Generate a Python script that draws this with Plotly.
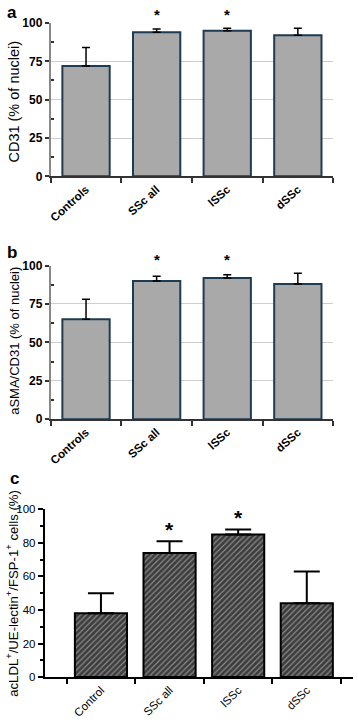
import plotly.graph_objects as go

cats_ab = ["Controls", "SSc all", "lSSc", "dSSc"]
cats_c = ["Control", "SSc all", "lSSc", "dSSc"]

cd31 = [72, 94, 95, 92]
cd31_err = [12, 2, 1.5, 4.5]
asma = [65, 90, 92, 88]
asma_err = [13, 3, 2, 7]
acldl = [38, 74, 85, 44]
acldl_err = [12, 7, 3, 19]

titles = ["CD31 (% of nuclei)", "aSMA/CD31 (% of nuclei)",
          "acLDL<sup>+</sup>/UE-lectin<sup>+</sup>/FSP-1<sup>+</sup> cells (%)"]
panel_labels = ["a", "b", "c"]

W, H = 358, 722
def px(x): return x / W
def py(y): return 1 - y / H

FONT = "Liberation Sans, Arial"
fig = go.Figure()

bar_ab = dict(marker=dict(color="#a9a9a9", line=dict(color="#1d3b52", width=2)), width=0.67, showlegend=False)
fig.add_trace(go.Bar(x=cats_ab, y=cd31, xaxis="x", yaxis="y",
                     error_y=dict(type="data", array=cd31_err, arrayminus=[0]*4, symmetric=False,
                                  color="black", thickness=1.5, width=4), **bar_ab))
fig.add_trace(go.Bar(x=cats_ab, y=asma, xaxis="x2", yaxis="y2",
                     error_y=dict(type="data", array=asma_err, arrayminus=[0]*4, symmetric=False,
                                  color="black", thickness=1.5, width=4), **bar_ab))
fig.add_trace(go.Bar(x=cats_c, y=acldl, xaxis="x3", yaxis="y3", width=0.76, showlegend=False,
                     marker=dict(color="#3c3c3c", line=dict(color="black", width=2),
                                 pattern=dict(shape="/", fgcolor="#d8d8d8", size=4, solidity=0.3, fillmode="overlay")),
                     error_y=dict(type="data", array=acldl_err, arrayminus=[0]*4, symmetric=False,
                                  color="black", thickness=2, width=13)))

tf_ab = dict(family=FONT, size=11.5, color="black", weight="bold")
tf_c = dict(family=FONT, size=11.5, color="black")
tfy_ab = dict(family=FONT, size=12, color="black", weight="bold")

xa_ab = dict(type="category", range=[-0.5, 3.5], tickson="boundaries", ticks="outside", ticklen=5,
             tickcolor="#333", tickwidth=1.5, showline=True, linecolor="#333", linewidth=2,
             tickangle=-42, tickfont=tf_ab, showgrid=False, fixedrange=True)
ya_ab = dict(range=[0, 100], tickvals=[0, 25, 50, 75, 100], ticks="outside", ticklen=4, tickcolor="#333",
             tickwidth=1.5, showline=True, linecolor="#888", linewidth=2, showgrid=True,
             gridcolor="#cfcfcf", gridwidth=1, tickfont=tfy_ab, zeroline=False, fixedrange=True,
             minor=dict(tickvals=[12.5, 37.5, 62.5, 87.5], ticks="inside", ticklen=3, tickcolor="#333", showgrid=False))

fig.update_layout(
    width=W, height=H, margin=dict(l=0, r=0, t=0, b=0),
    paper_bgcolor="white", plot_bgcolor="white", bargap=0.33,
    xaxis=dict(domain=[px(49), px(333)], anchor="y", **xa_ab),
    yaxis=dict(domain=[py(172.7), py(16.3)], anchor="x", **ya_ab),
    xaxis2=dict(domain=[px(49), px(333)], anchor="y2", **xa_ab),
    yaxis2=dict(domain=[py(420.3), py(263.7)], anchor="x2", **ya_ab),
    xaxis3=dict(domain=[px(43), px(353)], anchor="y3", type="category", range=[-0.819, 3.674],
                tickson="boundaries", ticks="outside", ticklen=5, tickcolor="black", tickwidth=1.5,
                showline=True, linecolor="black", linewidth=2, tickangle=-45, tickfont=tf_c, fixedrange=True),
    yaxis3=dict(domain=[py(683.3), py(512.3)], anchor="x3", range=[0, 100], tickvals=[0, 20, 40, 60, 80, 100],
                ticks="outside", ticklen=5, tickcolor="black", tickwidth=1.5, showline=True, linecolor="black",
                linewidth=2, showgrid=False, zeroline=False, tickfont=tf_c, fixedrange=True,
                minor=dict(tickvals=[10, 30, 50, 70, 90], ticks="outside", ticklen=3, tickcolor="black")),
)

ann = []
for xr, yr, cats, ys, sz in [("x", "y domain", cats_ab, [1.053, 1.053], 15),
                              ("x2", "y2 domain", cats_ab, [1.04, 1.04], 15),
                              ("x3", "y3 domain", cats_c, [0.88, 0.95], 21)]:
    for c, yv in zip(cats[1:3], ys):
        ann.append(dict(x=c, y=yv, xref=xr, yref=yr, text="*", showarrow=False,
                        font=dict(family=FONT, size=sz, color="black", weight="bold"),
                        yanchor="middle"))
for t, (xv, yv) in zip(panel_labels, [(10, 6), (10, 250), (13, 481)]):
    ann.append(dict(x=px(xv), y=py(yv), xref="paper", yref="paper", text=t, showarrow=False,
                    xanchor="center", yanchor="middle",
                    font=dict(family=FONT, size=17, color="black", weight="bold")))
for t, (xv, yv, sz) in zip(titles, [(12, 96.5, 14.5), (13, 340.5, 13), (10.5, 598, 13.2)]):
    ann.append(dict(x=px(xv), y=py(yv), xref="paper", yref="paper", text=t, showarrow=False,
                    textangle=-90, xanchor="center", yanchor="middle",
                    font=dict(family=FONT, size=sz, color="black")))
fig.update_layout(annotations=ann)

fig.write_html("out.html", config={"displayModeBar": False},
               post_script="document.body.style.margin='0';document.body.style.overflow='hidden';")
